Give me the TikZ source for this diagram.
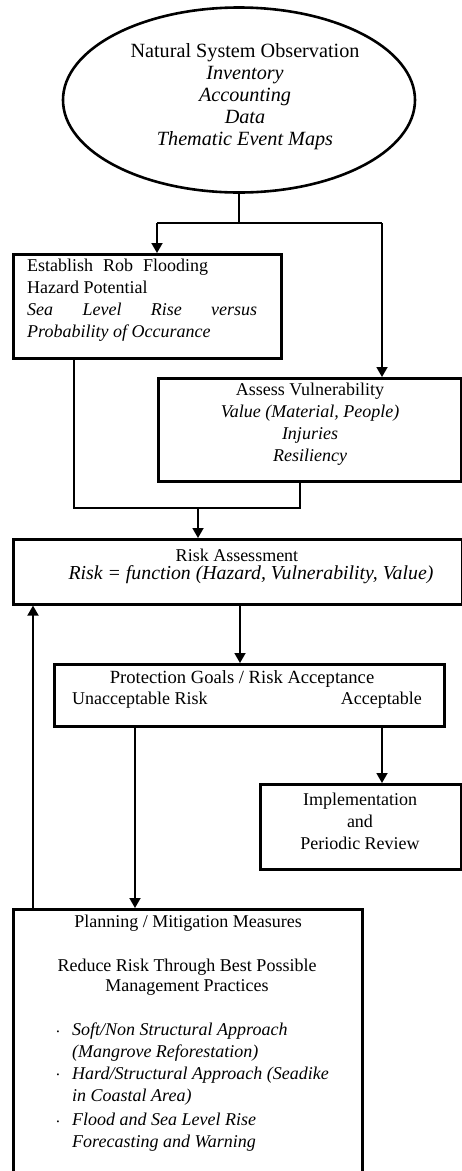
\documentclass[tikz,border=0pt]{standalone}
\usepackage{fontspec}
\setmainfont{Liberation Serif}
\usetikzlibrary{shapes.geometric,arrows.meta}
\tikzset{
  box/.style={draw, rectangle, line width=2.6pt, anchor=north west, inner sep=0pt},
  arr/.style={line width=1.8pt, -{Triangle[length=10pt,width=11pt]}},
  thin/.style={line width=1.4pt},
  txt/.style={font=\fontsize{18}{22}\selectfont, inner sep=0pt},
}
\begin{document}
\begin{tikzpicture}[x=1pt,y=-1pt]
\useasboundingbox (0,0) rectangle (462,1171);
\clip (0,0) rectangle (462,1171);
% shapes
\node[draw, ellipse, line width=2.6pt, minimum width=352pt, minimum height=185pt, inner sep=0pt] (obs) at (239,100) {};
\node[box, minimum width=268pt, minimum height=104pt] (est) at (12,253) {};
\node[box, minimum width=303pt, minimum height=103pt] (vul) at (157,377) {};
\node[box, minimum width=449pt, minimum height=65pt] (risk) at (12,538) {};
\node[box, minimum width=390pt, minimum height=62pt] (prot) at (53,663) {};
\node[box, minimum width=201pt, minimum height=85pt] (impl) at (259,783) {};
\node[box, minimum width=349pt, minimum height=320pt] (plan) at (12,908) {};
% texts
\node[txt, align=center, font=\fontsize{20.2}{22}\selectfont] (tobs) at (245,97) {Natural System Observation\\ \textit{Inventory}\\ \textit{Accounting}\\ \textit{Data}\\ \textit{Thematic Event Maps}};
\node[txt, align=left, anchor=north west] (test) at (27,259) {\makebox[181pt][s]{Establish Rob Flooding}\\ Hazard Potential\\ \textit{\makebox[230pt][s]{Sea Level Rise versus}}\\ \textit{Probability of Occurance}};
\node[txt, align=center] (tvul) at (310,424) {Assess Vulnerability\\ \textit{Value (Material, People)}\\ \textit{Injuries}\\ \textit{Resiliency}};
\node[txt] (trisk1) at (237,555) {Risk Assessment};
\node[txt, font=\fontsize{19.8}{22}\selectfont] (trisk2) at (251,575) {\textit{Risk = function (Hazard, Vulnerability, Value)}};
\node[txt, font=\fontsize{18.6}{22}\selectfont] (tprot) at (242,679) {Protection Goals / Risk Acceptance};
\node[txt, anchor=west] (tunacc) at (72,700) {Unacceptable Risk};
\node[txt, anchor=east] (tacc) at (422,700) {Acceptable};
\node[txt, align=center] (timpl) at (360,821) {Implementation\\ and\\ Periodic Review};
\node[txt] (tplan) at (188,923) {Planning / Mitigation Measures};
\node[txt, align=center, font=\fontsize{18}{19.5}\selectfont] (tred) at (187,977) {Reduce Risk Through Best Possible\\ Management Practices};
\node[txt, align=left, anchor=west, font=\fontsize{18}{21.5}\selectfont] (b1) at (72,1042) {\textit{Soft/Non Structural Approach}\\ \textit{(Mangrove Reforestation)}};
\node[txt, align=left, anchor=west, font=\fontsize{18}{21.5}\selectfont] (b2) at (72,1086) {\textit{Hard/Structural Approach (Seadike}\\ \textit{in Coastal Area)}};
\node[txt, align=left, anchor=west, font=\fontsize{18}{21.5}\selectfont] (b3) at (72,1132) {\textit{Flood and Sea Level Rise}\\ \textit{Forecasting and Warning}};
\node[font=\fontsize{8}{8}\selectfont, inner sep=0pt] (d1) at (58,1033) {•};
\node[font=\fontsize{8}{8}\selectfont, inner sep=0pt] (d2) at (58,1076) {•};
\node[font=\fontsize{8}{8}\selectfont, inner sep=0pt] (d3) at (58,1123) {•};
% connectors
\coordinate (j1) at (239,223);
\coordinate (tl) at (157,223);
\coordinate (tr) at (382,223);
\draw[thin] (obs.south) -- (j1);
\draw[thin] (tl) -- (tr);
\draw[arr] (tl) -- (tl |- est.north);
\draw[arr] (tr) -- (tr |- vul.north);
\coordinate (ml) at (74,508);
\coordinate (mr) at (300,508);
\coordinate (mm) at (198,508);
\draw[thin] (ml |- est.south) -- (ml) -- (mr) -- (mr |- vul.south);
\draw[arr] (mm) -- (mm |- risk.north);
\coordinate (c1) at (240,0);
\draw[arr] (c1 |- risk.south) -- (c1 |- prot.north);
\coordinate (c2) at (382,0);
\draw[arr] (c2 |- prot.south) -- (c2 |- impl.north);
\coordinate (c3) at (135,0);
\draw[arr] (c3 |- prot.south) -- (c3 |- plan.north);
\coordinate (c4) at (33,0);
\draw[arr] (c4 |- plan.north) -- (c4 |- risk.south);
\end{tikzpicture}
\end{document}
